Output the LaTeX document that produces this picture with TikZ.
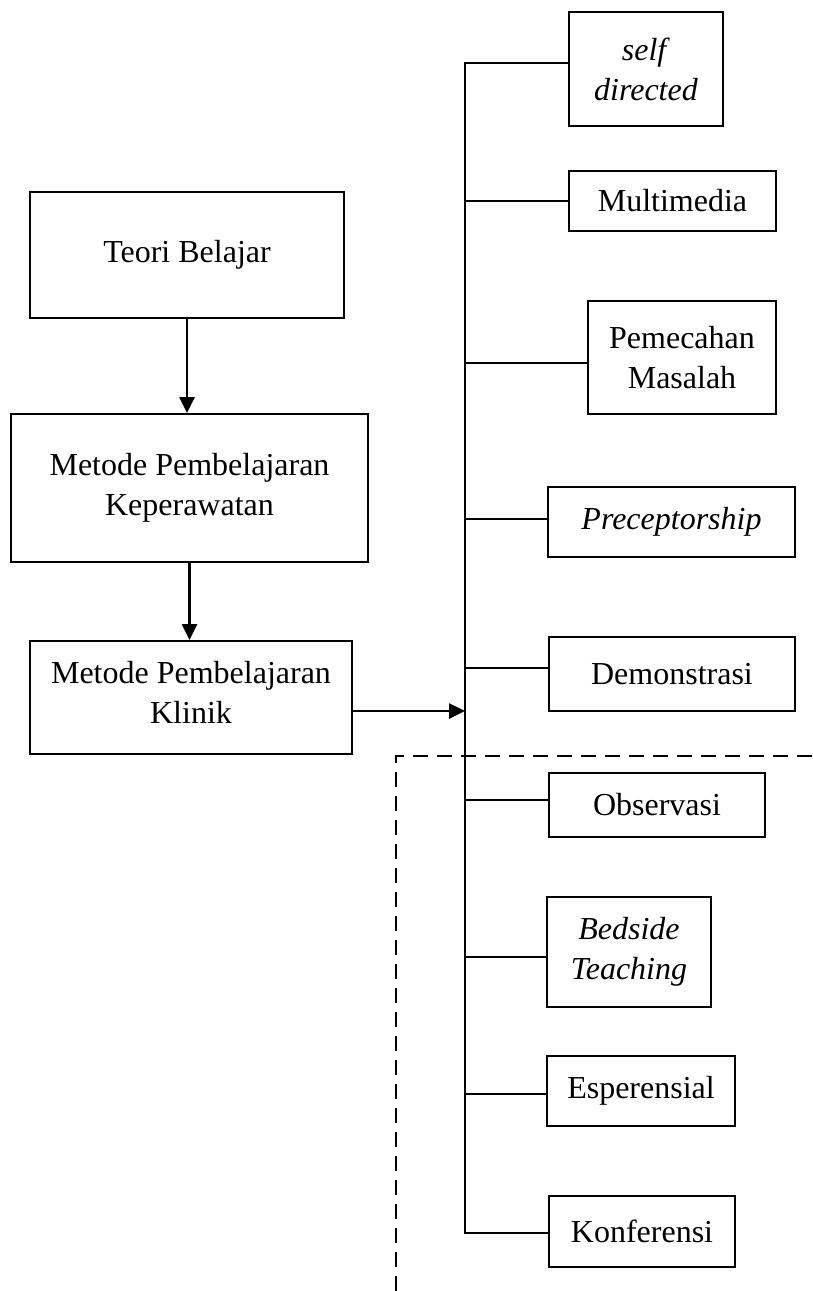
\documentclass[tikz,border=0pt]{standalone}
\usepackage{fontspec}
\setmainfont{Liberation Serif}
\usetikzlibrary{arrows.meta,calc}

\begin{document}
\begin{tikzpicture}[x=1pt,y=1pt,yscale=-1,xscale=1,
		box/.style={draw, line width=2pt, align=center, inner sep=0pt, font=\fontsize{32}{40}\selectfont},
		link/.style={line width=2pt},
		arr/.style={line width=2.6pt, -{Triangle[length=16pt,width=15pt]}}]
		\useasboundingbox (0,0) rectangle (812,1291);

		% left column
		\node [box, minimum width=314pt, minimum height=126pt] (teori) at (187,255) {Teori Belajar};
		\node [box, minimum width=357pt, minimum height=148pt] (kep) at (189.5,488) {Metode Pembelajaran\\Keperawatan};
		\node [box, minimum width=322pt, minimum height=113pt, text depth=10pt] (klinik) at (191,697.5) {Metode Pembelajaran\\Klinik};

		\draw [arr] (teori.south) -- (teori.south |- kep.north);
		\draw [arr] (kep.south) -- (kep.south |- klinik.north);

		% right column
		\node [box, minimum width=154pt, minimum height=114pt] (self) at (646,69) {\textit{self}\\\textit{directed}};
		\node [box, minimum width=207pt, minimum height=60pt] (multi) at (672.5,201) {Multimedia};
		\node [box, minimum width=188pt, minimum height=113pt] (pem) at (682,357.5) {Pemecahan\\Masalah};
		\node [box, minimum width=247pt, minimum height=70pt] (pre) at (671.5,522) {\textit{Preceptorship}};
		\node [box, minimum width=246pt, minimum height=74pt] (demo) at (672,674) {Demonstrasi};
		\node [box, minimum width=216pt, minimum height=64pt] (obs) at (657,805) {Observasi};
		\node [box, minimum width=164pt, minimum height=110pt] (bed) at (629,952) {\textit{Bedside}\\\textit{Teaching}};
		\node [box, minimum width=188pt, minimum height=70pt] (esp) at (641,1091) {Esperensial};
		\node [box, minimum width=186pt, minimum height=71pt] (konf) at (642,1231.5) {Konferensi};

		% trunk
		\coordinate (top) at (465,63);
		\coordinate (bot) at (465,1233);
		\coordinate (join) at (465,711);
		\draw [link] (self.west |- top) -- (top) -- (bot) -- (bot -| konf.west);
		\foreach \n/\y in {multi/201, pem/363, pre/519, demo/668, obs/800, bed/957, esp/1094} {
			\coordinate (b) at (465,\y);
			\draw [link] (b) -- (b -| \n.west);
		}
		\draw [arr] (klinik.east |- join) -- (join);

		% dashed frame
		\draw [line width=2pt, dash pattern=on 15pt off 9pt] (396,1291) -- (396,756) -- (812,756);
		\end{tikzpicture}
\end{document}
